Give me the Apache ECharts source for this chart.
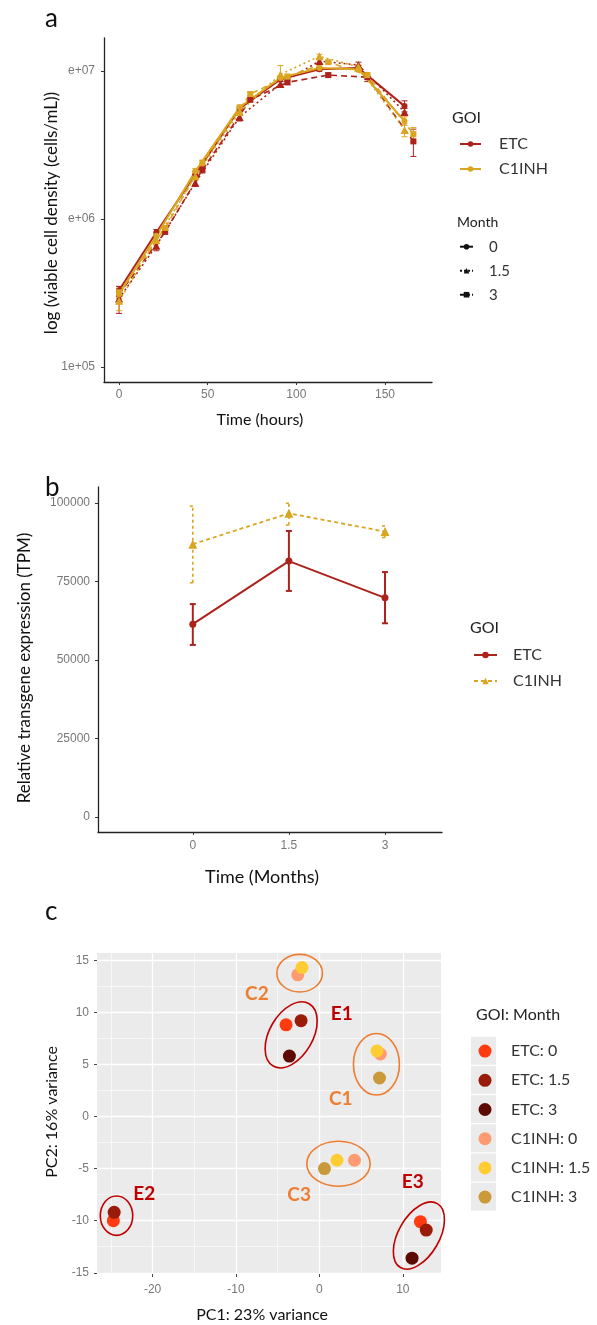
<!DOCTYPE html>
<html>
<head>
<meta charset="utf-8">
<script src="https://cdn.jsdelivr.net/npm/echarts@6/dist/echarts.min.js"></script>
<style>
html, body { margin: 0; padding: 0; background: #fff; }
#chart { width: 597px; height: 1325px; }
</style>
</head>
<body>
<div id="chart"></div>
<script>
// ---- panel a : viable cell density ----
const aHours = [0, 21, 43, 68, 91, 113, 135, 161];
const aHours3 = [0, 26, 47, 74, 95, 118, 140, 166];
const aEtc0 = [3.3e5, 8.1e5, 2.0e6, 5.6e6, 8.8e6, 1.03e7, 1.05e7, 5.8e6];
const aEtc15 = [2.9e5, 6.6e5, 1.76e6, 4.9e6, 8.2e6, 1.17e7, 1.1e7, 5.3e6];
const aEtc3 = [3.1e5, 8.2e5, 2.15e6, 6.4e6, 8.4e6, 9.4e6, 9.1e6, 3.35e6];
const aC10 = [3.1e5, 7.7e5, 2.1e6, 5.7e6, 9.0e6, 1.05e7, 1.03e7, 4.6e6];
const aC115 = [2.8e5, 7.2e5, 1.95e6, 5.3e6, 9.5e6, 1.26e7, 1.07e7, 4.0e6];
const aC13 = [3.2e5, 8.7e5, 2.4e6, 7.0e6, 9.2e6, 1.15e7, 9.4e6, 3.75e6];
const aEtc0Sd = [2e4, 4e4, 1e5, 2e5, 3e5, 3e5, 4e5, 5e5];
const aEtc15Sd = [6e4, 5e4, 1e5, 3e5, 3e5, 4e5, 5e5, 3e5];
const aEtc3Sd = [2e4, 3e4, 1e5, 2e5, 3e5, 3e5, 6e5, 7e5];
const aC10Sd = [2e4, 3e4, 1e5, 2e5, 3e5, 3e5, 3e5, 3e5];
const aC115Sd = [4e4, 4e4, 1e5, 2e5, 1.4e6, 4e5, 3e5, 4e5];
const aC13Sd = [2e4, 3e4, 1e5, 2e5, 3e5, 3e5, 3e5, 4e5];
const aXTicks = [0, 50, 100, 150];
const aYTicks = [1e5, 1e6, 1e7];
const aYTickLabels = ['1e+05', 'e+06', 'e+07'];

// ---- panel b : transgene expression ----
const bMonths = [0, 1.5, 3];
const bEtc = [61400, 81500, 69800];
const bEtcLow = [54800, 72000, 61700];
const bEtcHigh = [67800, 91100, 78000];
const bC1 = [86900, 96700, 90900];
const bC1Low = [74600, 93000, 89000];
const bC1High = [99000, 99900, 92700];
const bYTicks = [0, 25000, 50000, 75000, 100000];

// ---- panel c : PCA ----
const cGroups = ['ETC: 0', 'ETC: 1.5', 'ETC: 3', 'C1INH: 0', 'C1INH: 1.5', 'C1INH: 3'];
const cEtc0 = [[-4.0, 8.8], [-24.7, -10.0], [12.1, -10.1]];
const cEtc15 = [[-2.2, 9.2], [-24.6, -9.2], [12.8, -10.9]];
const cEtc3 = [[-3.6, 5.8], [11.1, -13.6]];
const cC10 = [[-2.6, 13.6], [7.3, 6.0], [4.2, -4.2]];
const cC115 = [[-2.1, 14.3], [6.9, 6.3], [2.1, -4.2]];
const cC13 = [[7.2, 3.7], [0.6, -5.0]];
const cXTicks = [-20, -10, 0, 10];
const cXMinor = [-25, -15, -5, 5];
const cYTicks = [-15, -10, -5, 0, 5, 10, 15];
const cYMinor = [-12.5, -7.5, -2.5, 2.5, 7.5, 12.5];

const RED = '#AB231B';
const GOLD = '#DAA520';
const TICK_FONT = 'Liberation Sans';
const TEXT_FONT = 'Lato';
const cColors = ['#FF3B0F', '#9B1B0B', '#5C0A00', '#FF9B73', '#FFCC33', '#C9993A'];
const E_RED = '#C00000';
const C_ORANGE = '#ED7D31';

// rings drawn round the clusters (centre in data units, radii in px)
const cRings = [
  { label: 'E1', x: -3.39, y: 7.84, rx: 21.7, ry: 36, rot: -30, lx: 2.68, ly: 9.82, color: E_RED },
  { label: 'E2', x: -24.32, y: -9.52, rx: 16.2, ry: 19.7, rot: 0, lx: -21.0, ly: -7.39, color: E_RED },
  { label: 'E3', x: 11.92, y: -11.43, rx: 20.4, ry: 36.9, rot: -30, lx: 11.19, ly: -6.31, color: E_RED },
  { label: 'C2', x: -2.37, y: 13.76, rx: 22.8, ry: 18.8, rot: 0, lx: -7.5, ly: 11.8, color: C_ORANGE },
  { label: 'C1', x: 6.83, y: 5.02, rx: 23, ry: 30.8, rot: 0, lx: 2.56, ly: 1.66, color: C_ORANGE },
  { label: 'C3', x: 2.28, y: -4.54, rx: 31.7, ry: 22.5, rot: 0, lx: -2.43, ly: -7.49, color: C_ORANGE }
];

const monthStyle = {
  '0': { type: 'solid', symbol: 'circle', size: 6, width: 2 },
  '1.5': { type: [2, 3], symbol: 'triangle', size: 8, width: 1.6 },
  '3': { type: [6, 4], symbol: 'rect', size: 6, width: 1.6 }
};

const aRuns = [
  { name: 'ETC 0', x: aHours, y: aEtc0, sd: aEtc0Sd, color: RED, month: '0' },
  { name: 'ETC 1.5', x: aHours, y: aEtc15, sd: aEtc15Sd, color: RED, month: '1.5' },
  { name: 'ETC 3', x: aHours3, y: aEtc3, sd: aEtc3Sd, color: RED, month: '3' },
  { name: 'C1INH 0', x: aHours, y: aC10, sd: aC10Sd, color: GOLD, month: '0' },
  { name: 'C1INH 1.5', x: aHours, y: aC115, sd: aC115Sd, color: GOLD, month: '1.5' },
  { name: 'C1INH 3', x: aHours3, y: aC13, sd: aC13Sd, color: GOLD, month: '3' }
];

//误差线
function errorBars(name, axis, xs, lows, highs, color, width, dash, cap) {
  return {
    type: 'custom',
    name: name,
    xAxisIndex: axis,
    yAxisIndex: axis,
    z: 1,
    silent: true,
    encode: { x: 0, y: [1, 2] },
    data: xs.map(function (x, i) { return [x, lows[i], highs[i]]; }),
    renderItem: function (params, api) {
      const lo = api.coord([api.value(0), api.value(1)]);
      const hi = api.coord([api.value(0), api.value(2)]);
      const style = { stroke: color, lineWidth: width, lineDash: dash };
      return {
        type: 'group',
        children: [
          { type: 'line', shape: { x1: lo[0], y1: lo[1], x2: hi[0], y2: hi[1] }, style: style },
          { type: 'line', shape: { x1: lo[0] - cap, y1: lo[1], x2: lo[0] + cap, y2: lo[1] }, style: style },
          { type: 'line', shape: { x1: hi[0] - cap, y1: hi[1], x2: hi[0] + cap, y2: hi[1] }, style: style }
        ]
      };
    }
  };
}

function keySeries(name, color, ms, axis) {
  return {
    type: 'line',
    name: name,
    xAxisIndex: axis,
    yAxisIndex: axis,
    data: [],
    symbol: ms.symbol,
    symbolSize: ms.size,
    itemStyle: { color: color },
    lineStyle: { color: color, width: ms.width, type: ms.type }
  };
}

let series = [];

// panel a
for (let r of aRuns) {
  const ms = monthStyle[r.month];
  series.push(errorBars(r.name + ' sd', 0, r.x,
    r.y.map(function (v, i) { return v - r.sd[i]; }),
    r.y.map(function (v, i) { return v + r.sd[i]; }),
    r.color, 1, null, 3));
  series.push({
    type: 'line',
    name: r.name,
    xAxisIndex: 0,
    yAxisIndex: 0,
    z: 2,
    data: r.x.map(function (x, i) { return [x, r.y[i]]; }),
    symbol: ms.symbol,
    symbolSize: ms.size,
    itemStyle: { color: r.color },
    lineStyle: { color: r.color, width: ms.width, type: ms.type }
  });
}
series.push(keySeries('a|ETC', RED, monthStyle['0'], 0));
series.push(keySeries('a|C1INH', GOLD, monthStyle['0'], 0));
series.push(keySeries('m|0', '#111', { type: 'solid', symbol: 'circle', size: 5, width: 2 }, 0));
series.push(keySeries('m|1.5', '#111', { type: [2, 2], symbol: 'triangle', size: 6, width: 2 }, 0));
series.push(keySeries('m|3', '#111', { type: [4, 2], symbol: 'rect', size: 5, width: 2 }, 0));

// panel b
series.push(errorBars('b ETC sd', 1, bMonths, bEtcLow, bEtcHigh, RED, 2, null, 3));
series.push(errorBars('b C1INH sd', 1, bMonths, bC1Low, bC1High, GOLD, 1.6, [3, 3], 3));
series.push({
  type: 'line', name: 'b|ETC', xAxisIndex: 1, yAxisIndex: 1, z: 2,
  data: bMonths.map(function (m, i) { return [m, bEtc[i]]; }),
  symbol: 'circle', symbolSize: 7,
  itemStyle: { color: RED },
  lineStyle: { color: RED, width: 2 }
});
series.push({
  type: 'line', name: 'b|C1INH', xAxisIndex: 1, yAxisIndex: 1, z: 2,
  data: bMonths.map(function (m, i) { return [m, bC1[i]]; }),
  symbol: 'triangle', symbolSize: 9,
  itemStyle: { color: GOLD },
  lineStyle: { color: GOLD, width: 1.8, type: [4, 3] }
});

// panel c
const cPoints = [cEtc0, cEtc15, cEtc3, cC10, cC115, cC13];
cGroups.forEach(function (g, i) {
  series.push({
    type: 'scatter', name: g, xAxisIndex: 2, yAxisIndex: 2, z: 3,
    data: cPoints[i], symbol: 'circle', symbolSize: 13,
    itemStyle: { color: cColors[i], opacity: 1 }
  });
});
series.push({
  type: 'custom', name: 'rings', xAxisIndex: 2, yAxisIndex: 2, z: 4, silent: true,
  data: cRings.map(function (r) { return [r.x, r.y]; }),
  renderItem: function (params, api) {
    const r = cRings[params.dataIndex];
    const c = api.coord([api.value(0), api.value(1)]);
    const t = api.coord([r.lx, r.ly]);
    return {
      type: 'group',
      children: [
        {
          type: 'ellipse', x: c[0], y: c[1], rotation: r.rot * Math.PI / 180,
          shape: { cx: 0, cy: 0, rx: r.rx, ry: r.ry },
          style: { fill: 'none', stroke: r.color, lineWidth: 1.6 }
        },
        {
          type: 'text', x: t[0], y: t[1],
          style: { text: r.label, fill: r.color, font: 'bold 19px ' + TEXT_FONT, align: 'center', verticalAlign: 'middle' }
        }
      ]
    };
  }
});

// 文本与图例背景
function txt(s, x, y, font, opt) {
  opt = opt || {};
  return {
    type: 'text', x: x, y: y, rotation: opt.rot || 0, z: 10,
    style: { text: s, font: font, fill: opt.color || '#111', align: opt.align || 'center', verticalAlign: 'middle' }
  };
}
let graphics = [
  txt('a', 45, 19, '26px ' + TEXT_FONT, { align: 'left' }),
  txt('b', 45, 488, '26px ' + TEXT_FONT, { align: 'left' }),
  txt('c', 45, 912, '26px ' + TEXT_FONT, { align: 'left' }),
  txt('log (viable cell density (cells/mL))', 52, 213, '17px ' + TEXT_FONT, { rot: Math.PI / 2 }),
  txt('Time (hours)', 260, 420, '16px ' + TEXT_FONT),
  txt('Relative transgene expression (TPM)', 25, 668, '17px ' + TEXT_FONT, { rot: Math.PI / 2 }),
  txt('Time (Months)', 262, 877, '18px ' + TEXT_FONT),
  txt('PC2: 16% variance', 52, 1112, '16px ' + TEXT_FONT, { rot: Math.PI / 2 }),
  txt('PC1: 23% variance', 262, 1315, '16px ' + TEXT_FONT),
  txt('GOI', 452, 118, '16px ' + TEXT_FONT, { align: 'left', color: '#222' }),
  txt('Month', 457, 222, '14px ' + TEXT_FONT, { align: 'left', color: '#222' }),
  txt('GOI', 470, 628, '16px ' + TEXT_FONT, { align: 'left', color: '#222' }),
  txt('GOI: Month', 476, 1015, '16px ' + TEXT_FONT, { align: 'left', color: '#222' })
];
cGroups.forEach(function (g, i) {
  graphics.push({
    type: 'rect', z: 0,
    shape: { x: 471, y: 1036.7 + i * 29.2, width: 25, height: 28 },
    style: { fill: '#EBEBEB' }
  });
});

const tickLabel = { color: '#777', fontSize: 12, fontFamily: TICK_FONT };
const blackLine = { show: true, onZero: false, lineStyle: { color: '#222', width: 1.3 } };
const stripName = function (n) { return n.split('|').pop(); };

let chart = echarts.init(document.getElementById('chart'));
chart.setOption({
  animation: false,
  backgroundColor: '#fff',
  graphic: graphics,
  grid: [
    { left: 104, top: 38, width: 328, height: 344 },
    { left: 98, top: 487, width: 344, height: 345 },
    { left: 97, top: 953, width: 344, height: 321, show: true, backgroundColor: '#EBEBEB', borderWidth: 0 }
  ],
  xAxis: [
    {
      gridIndex: 0, type: 'value', min: -8.5, max: 176.5,
      axisLine: blackLine,
      axisTick: { customValues: aXTicks, length: 3, lineStyle: { color: '#333' } },
      axisLabel: Object.assign({ customValues: aXTicks, margin: 7 }, tickLabel),
      splitLine: { show: false }
    },
    {
      gridIndex: 1, type: 'value', min: -1.48, max: 3.89,
      axisLine: blackLine,
      axisTick: { customValues: bMonths, length: 3, lineStyle: { color: '#333' } },
      axisLabel: Object.assign({ customValues: bMonths, margin: 8 }, tickLabel),
      splitLine: { show: false }
    },
    {
      gridIndex: 2, type: 'value', min: -26.66, max: 14.57,
      axisLine: { show: false, onZero: false },
      axisTick: { customValues: cXTicks, length: 3, lineStyle: { color: '#444' } },
      axisLabel: Object.assign({ customValues: cXTicks, margin: 10 }, tickLabel),
      splitLine: { show: true, lineStyle: { color: '#fff', width: 1.3 } }
    },
    {
      gridIndex: 2, type: 'value', min: -26.66, max: 14.57, position: 'top',
      axisLine: { show: false, onZero: false },
      axisTick: { show: false, customValues: cXMinor },
      axisLabel: { show: false },
      splitLine: { show: true, lineStyle: { color: '#fff', width: 0.6 } }
    }
  ],
  yAxis: [
    {
      gridIndex: 0, type: 'log', logBase: 10, min: 79070, max: 1.675e7,
      axisLine: blackLine,
      axisTick: { customValues: aYTicks, length: 3, lineStyle: { color: '#333' } },
      axisLabel: Object.assign({
        customValues: aYTicks, margin: 9,
        formatter: function (v) {
          let best = 0;
          aYTicks.forEach(function (t, i) {
            if (Math.abs(Math.log10(t) - Math.log10(v)) < Math.abs(Math.log10(aYTicks[best]) - Math.log10(v))) best = i;
          });
          return aYTickLabels[best];
        }
      }, tickLabel),
      splitLine: { show: false }
    },
    {
      gridIndex: 1, type: 'value', min: -4780, max: 105100,
      axisLine: blackLine,
      axisTick: { customValues: bYTicks, length: 3, lineStyle: { color: '#333' } },
      axisLabel: Object.assign({
        customValues: bYTicks, margin: 8,
        formatter: function (v) { return String(Math.round(v)); }
      }, tickLabel),
      splitLine: { show: false }
    },
    {
      gridIndex: 2, type: 'value', min: -15.12, max: 15.7,
      axisLine: { show: false, onZero: false },
      axisTick: { customValues: cYTicks, length: 3, lineStyle: { color: '#444' } },
      axisLabel: Object.assign({ customValues: cYTicks, margin: 8 }, tickLabel),
      splitLine: { show: true, lineStyle: { color: '#fff', width: 1.3 } }
    },
    {
      gridIndex: 2, type: 'value', min: -15.12, max: 15.7, position: 'right',
      axisLine: { show: false, onZero: false },
      axisTick: { show: false, customValues: cYMinor },
      axisLabel: { show: false },
      splitLine: { show: true, lineStyle: { color: '#fff', width: 0.6 } }
    }
  ],
  legend: [
    {
      data: ['a|ETC', 'a|C1INH'], formatter: stripName, orient: 'vertical',
      left: 459, top: 131.5, padding: 0, itemGap: 0, itemWidth: 21, itemHeight: 7,
      selectedMode: false,
      textStyle: { fontFamily: TEXT_FONT, fontSize: 16, color: '#333', lineHeight: 25, padding: [0, 0, 0, 13] }
    },
    {
      data: ['m|0', 'm|1.5', 'm|3'], formatter: stripName, orient: 'vertical',
      left: 459, top: 234.7, padding: 0, itemGap: 0, itemWidth: 13, itemHeight: 7,
      selectedMode: false,
      textStyle: { fontFamily: TEXT_FONT, fontSize: 15, color: '#333', lineHeight: 24, padding: [0, 0, 0, 11] }
    },
    {
      data: ['b|ETC', 'b|C1INH'], formatter: stripName, orient: 'vertical',
      left: 473, top: 642, padding: 0, itemGap: 0, itemWidth: 23, itemHeight: 8,
      selectedMode: false,
      textStyle: { fontFamily: TEXT_FONT, fontSize: 16, color: '#333', lineHeight: 26, padding: [0, 0, 0, 11] }
    },
    {
      data: cGroups, orient: 'vertical',
      left: 478.5, top: 1036.5, padding: 0, itemGap: 0, itemWidth: 42, itemHeight: 13,
      selectedMode: false,
      textStyle: { fontFamily: TEXT_FONT, fontSize: 16, color: '#333', lineHeight: 29.2 }
    }
  ],
  series: series
});
</script>
</body>
</html>
